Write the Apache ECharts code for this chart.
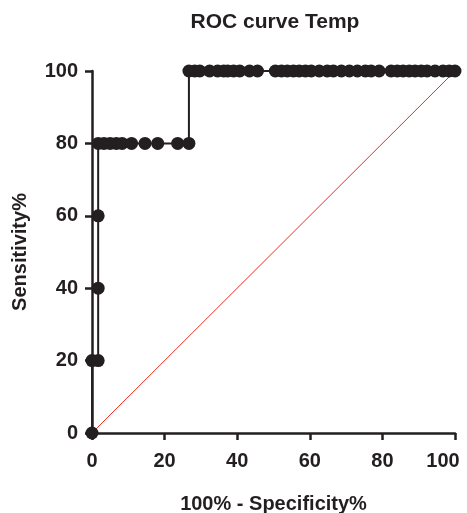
<!DOCTYPE html>
<html>
<head>
<meta charset="utf-8">
<script src="https://cdn.jsdelivr.net/npm/echarts@6/dist/echarts.min.js"></script>
<style>
  html, body { margin: 0; padding: 0; background: #fff; }
  #chart { width: 467px; height: 513px; }
</style>
</head>
<body>
<div id="chart"></div>
<script>
// ROC points, in plotting order
const specX = [
  0, 0, 1.7, 1.7, 1.7, 1.7,
  3.3, 5, 6.7, 8.3, 10.9, 14.6, 18.1, 23.6, 26.7,
  26.7, 28.3, 29.7, 32.4, 34.6, 36.3, 37.4, 39, 40.7, 43.4, 45.6,
  50.5, 52.2, 53.8, 55.5, 57.1, 58.8, 60.4, 62.6, 64.8, 66.5, 68.7,
  70.9, 73.1, 75.3, 76.9, 79.1, 82.4, 84.1, 85.7, 87.4, 89, 90.7,
  92.3, 94.5, 96.7, 98.4, 100
];
const sensY = [
  0, 20, 20, 40, 60, 80,
  80, 80, 80, 80, 80, 80, 80, 80, 80,
  100, 100, 100, 100, 100, 100, 100, 100, 100, 100, 100,
  100, 100, 100, 100, 100, 100, 100, 100, 100, 100, 100,
  100, 100, 100, 100, 100, 100, 100, 100, 100, 100, 100,
  100, 100, 100, 100, 100
];
const refX = [0, 100];
const refY = [0, 100];

const INK = "#231f20";
const FONT = "Liberation Sans, Arial, sans-serif";

const chart = echarts.init(document.getElementById("chart"));

const axisCommon = {
  min: 0,
  max: 100,
  interval: 20,
  axisLine: { show: true, onZero: false, lineStyle: { color: INK, width: 2.5 } },
  axisTick: { show: true, length: 7, lineStyle: { color: INK, width: 2.5 } },
  splitLine: { show: false },
  nameLocation: "middle",
  nameTextStyle: { color: INK, fontSize: 20, fontWeight: "bold", fontFamily: FONT },
};

const labelStyle = {
  color: INK,
  fontSize: 20,
  fontWeight: "bold",
  fontFamily: FONT,
};

chart.setOption({
  animation: false,
  title: {
    text: "ROC curve Temp",
    left: 270,
    textAlign: "center",
    top: 7,
    textStyle: { color: INK, fontSize: 21, fontWeight: "bold", fontFamily: FONT },
  },
  grid: { left: 92, right: 12, top: 71, bottom: 80, outerBoundsMode: "none" },
  xAxis: {
    ...axisCommon,
    type: "value",
    name: "100% - Specificity%",
    nameGap: 61,
    axisLabel: {
      ...labelStyle,
      margin: 18,
      // the last label sits a bit left of its tick so it stays on the page
      formatter: (v) => (v === 100 ? "{last|100}" : String(v)),
      rich: { last: { ...labelStyle, padding: [0, 24, 0, 0] } },
    },
  },
  yAxis: {
    ...axisCommon,
    type: "value",
    name: "Sensitivity%",
    nameGap: 62,
    axisLabel: { ...labelStyle, margin: 14 },
  },
  series: [
    {
      type: "line",
      data: refX.map((x, i) => [x, refY[i]]),
      showSymbol: false,
      lineStyle: { color: "#ee2a1f", width: 1 },
      z: 1,
      clip: false,
    },
    {
      type: "line",
      data: specX.map((x, i) => [x, sensY[i]]),
      symbol: "circle",
      symbolSize: 13,
      itemStyle: { color: INK },
      lineStyle: { color: INK, width: 2 },
      z: 3,
      clip: false,
    },
  ],
});
</script>
</body>
</html>
